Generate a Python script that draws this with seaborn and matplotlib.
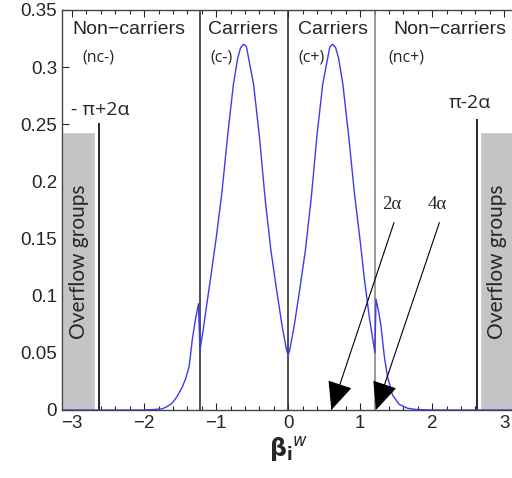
import matplotlib
matplotlib.use("Agg")
import matplotlib.pyplot as plt
import matplotlib.ticker as mticker
import seaborn as sns

# curve
beta_x = [-3.14, -2.4, -2.0, -1.85, -1.75, -1.68, -1.61, -1.54, -1.47, -1.42,
          -1.375, -1.33, -1.29, -1.245, -1.225, -1.18, -1.14, -1.08, -1.00, -0.92,
          -0.84, -0.76, -0.70, -0.66, -0.62, -0.58, -0.54, -0.48, -0.40, -0.32,
          -0.24, -0.16, -0.08, -0.02, 0.0,
          0.02, 0.08, 0.16, 0.24, 0.32, 0.40, 0.48, 0.54, 0.58, 0.62,
          0.66, 0.70, 0.76, 0.84, 0.92, 1.00, 1.06, 1.13, 1.205, 1.22,
          1.26, 1.29, 1.335, 1.38, 1.45, 1.54, 1.66, 1.77, 2.0, 2.4, 3.14]
density = [0.0, 0.0, 0.0, 0.0005, 0.001, 0.003, 0.006, 0.012, 0.020, 0.028,
           0.038, 0.062, 0.078, 0.093, 0.052, 0.070, 0.088, 0.114, 0.150, 0.190,
           0.240, 0.285, 0.308, 0.317, 0.320, 0.318, 0.305, 0.285, 0.240, 0.185,
           0.140, 0.105, 0.072, 0.052, 0.048,
           0.052, 0.072, 0.105, 0.140, 0.185, 0.240, 0.285, 0.305, 0.318, 0.320,
           0.317, 0.308, 0.285, 0.240, 0.190, 0.148, 0.114, 0.080, 0.050, 0.097,
           0.085, 0.073, 0.047, 0.029, 0.013, 0.005, 0.0015, 0.0005, 0.0, 0.0, 0.0]

# region boundaries
carrier_bounds = [-1.22, 0.0, 1.21]
bound_colors = ["#333333", "#333333", "#888888"]
overflow_bounds = [-2.62, 2.62]
overflow_labels = ["- π+2α", "π-2α"]

# overflow boxes
box_left = [-3.14, 2.66]
box_width = [0.46, 0.48]
box_height = [0.243, 0.243]

region_names = ["Non\u2212carriers", "Carriers", "Carriers", "Non\u2212carriers"]
region_tags = ["(nc-)", "(c-)", "(c+)", "(nc+)"]

arrow_labels = ["2α", "4α"]
arrow_targets = [0.6, 1.22]

sns.set_style("white")
plt.rcParams["font.family"] = ["Liberation Sans", "DejaVu Sans"]

fig = plt.figure(figsize=(5.12, 4.78), dpi=100)
ax = fig.add_axes([62 / 512, 68 / 478, 453 / 512, 400 / 478])

ax.bar(box_left, box_height, width=box_width, align="edge",
       color="#c4c4c4", edgecolor="white", linewidth=1.0, zorder=1)
for xb, lbl in zip(box_left, box_width):
    ax.text(xb + lbl / 2, 0.13, "Overflow groups", rotation=90, ha="center",
            va="center", fontsize=15, family=["Lato", "DejaVu Sans"], zorder=3)

for xb, c in zip(carrier_bounds, bound_colors):
    ax.axvline(xb, color=c, lw=1.2, zorder=2)
ax.vlines(overflow_bounds, 0, [0.251, 0.255], color="black", lw=1.2, zorder=2)

sns.lineplot(x=beta_x, y=density, ax=ax, color="#3b3bf0", lw=1.0, zorder=4)

# region labels
name_x = [-2.21, -0.625, 0.625, 2.25]
tag_x = [-2.64, -0.93, 0.33, 1.64]
for nx, tx, name, tag in zip(name_x, tag_x, region_names, region_tags):
    ax.text(nx, 0.3325, name, ha="center", va="center", fontsize=14)
    ax.text(tx, 0.308, tag, ha="center", va="center", fontsize=11.5,
            family=["Open Sans", "DejaVu Sans"])

ax.text(-2.61, 0.2625, overflow_labels[0], ha="center", va="center", fontsize=14,
        family=["Open Sans", "DejaVu Sans"])
ax.text(2.53, 0.269, overflow_labels[1], ha="center", va="center", fontsize=14,
        family=["Open Sans", "DejaVu Sans"])

label_x = [1.44, 2.07]
start_x = [1.47, 2.1]
for lx, sx, tgt, lbl in zip(label_x, start_x, arrow_targets, arrow_labels):
    ax.text(lx, 0.172, lbl, ha="center", va="bottom", fontsize=13.5,
            family=["Liberation Serif", "DejaVu Serif"])
    ax.annotate("", xy=(tgt, 0), xytext=(sx, 0.164),
                arrowprops=dict(arrowstyle="-|>,head_length=0.9,head_width=0.4",
                                color="black", lw=0.8, mutation_scale=20,
                                shrinkA=0, shrinkB=0), zorder=5)

ax.set_xlim(-3.14, 3.15)
ax.set_ylim(0, 0.35)
ax.set_yticks([0, 0.05, 0.1, 0.15, 0.2, 0.25, 0.3, 0.35])
ax.yaxis.set_major_formatter(mticker.FormatStrFormatter("%g"))
ax.set_xticks([-3, -2, -1, 0, 1, 2, 3])
ax.xaxis.set_minor_locator(mticker.MultipleLocator(0.2))
ax.tick_params(axis="both", which="major", direction="in", labelsize=13.5,
               length=5, width=0.8, top=True, left=True, bottom=True)
ax.tick_params(axis="x", which="minor", direction="in", length=3, width=0.8,
               top=True, bottom=True)
for side in ["left", "top", "bottom", "right"]:
    ax.spines[side].set_color("#444444")
    ax.spines[side].set_linewidth(1.0)

ax.set_xlabel(r"$\mathbf{\beta_i}^{w}$", fontsize=17, labelpad=2)
ax.set_ylabel("")

fig.savefig("out.png", dpi=100)
